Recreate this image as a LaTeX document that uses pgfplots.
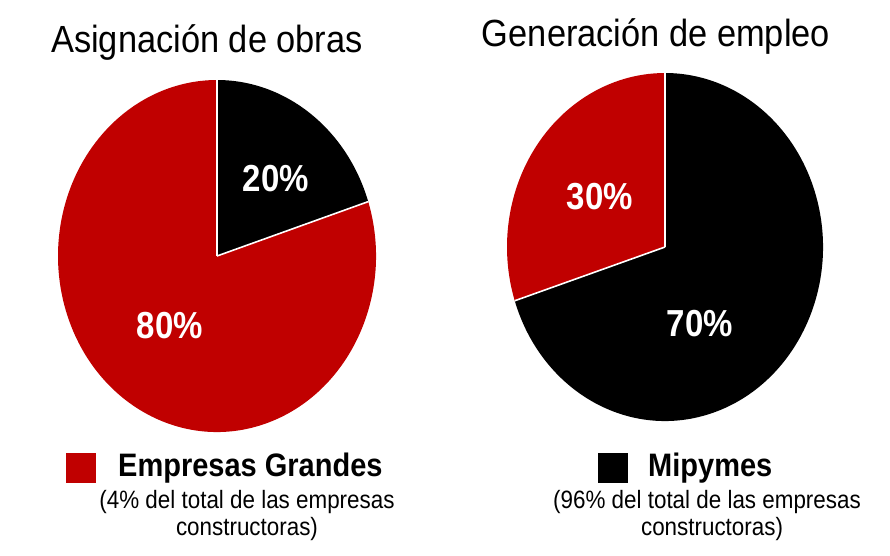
\documentclass[border=0pt]{standalone}
\usepackage{pgfplots}
\pgfplotsset{compat=1.18}
\usepackage{pgfplotstable}
\usepackage{fontspec}
\usepackage{graphicx}
\setmainfont{Liberation Sans}
\definecolor{pred}{HTML}{C00000}

\pgfplotstableread{
pie grandes mipymes
obras 80 20
empleo 30 70
}\datatable

\begin{document}
\pgfplotstablegetelem{0}{mipymes}\of\datatable \let\obrasMip\pgfplotsretval
\pgfplotstablegetelem{1}{grandes}\of\datatable \let\empleoGra\pgfplotsretval
\begin{tikzpicture}
\begin{axis}[
  width=890pt, height=555pt, scale only axis,
  xmin=0, xmax=890, ymin=0, ymax=555, y dir=reverse,
  hide axis, clip=false]
\path (0,0) rectangle (890,555);
% ---- left pie: Asignacion de obras ----
\pgfmathsetmacro{\aEnd}{90-3.6*\obrasMip}
\fill[black] (217,256) -- ++(90:159pt and 176pt) arc[start angle=90, end angle=\aEnd, x radius=159pt, y radius=176pt] -- cycle;
\fill[pred] (217,256) -- ++(\aEnd:159pt and 176pt) arc[start angle=\aEnd, end angle=-270, x radius=159pt, y radius=176pt] -- cycle;
\draw[white, line width=1.6pt] (217,256) -- ++(90:159pt and 176pt);
\draw[white, line width=1.6pt] (217,256) -- ++(\aEnd:159pt and 176pt);
% ---- right pie: Generacion de empleo ----
\pgfmathsetmacro{\bEnd}{90+3.6*\empleoGra}
\fill[pred] (665,247) -- ++(90:158pt and 174pt) arc[start angle=90, end angle=\bEnd, x radius=158pt, y radius=174pt] -- cycle;
\fill[black] (665,247) -- ++(\bEnd:158pt and 174pt) arc[start angle=\bEnd, end angle=450, x radius=158pt, y radius=174pt] -- cycle;
\draw[white, line width=1.6pt] (665,247) -- ++(90:158pt and 174pt);
\draw[white, line width=1.6pt] (665,247) -- ++(\bEnd:158pt and 174pt);
% ---- percentage labels ----
\node[text=white, font=\fontsize{33}{33}\selectfont\bfseries] at (276,179) {\scalebox{1}[1.14]{20\%}};
\node[text=white, font=\fontsize{33}{33}\selectfont\bfseries] at (170,326) {\scalebox{1}[1.14]{80\%}};
\node[text=white, font=\fontsize{33}{33}\selectfont\bfseries] at (600,197) {\scalebox{1}[1.14]{30\%}};
\node[text=white, font=\fontsize{33}{33}\selectfont\bfseries] at (700,324) {\scalebox{1}[1.14]{70\%}};
% ---- titles ----
\node[font=\fontsize{34.4}{34.4}\selectfont, anchor=base, inner sep=0pt] at (207,52.7) {\scalebox{1}[1.1]{Asignación de obras}};
\node[font=\fontsize{34.4}{34.4}\selectfont, anchor=base, inner sep=0pt] at (656,46.7) {\scalebox{1}[1.1]{Generación de empleo}};
% ---- legend ----
\addplot[only marks, mark=square*, mark size=14.5pt, color=pred] coordinates {(81,468)};
\addplot[only marks, mark=square*, mark size=14.5pt, color=black] coordinates {(613,468)};
\node[font=\fontsize{29}{29}\selectfont\bfseries, anchor=west, inner sep=0pt] at (118,468) {\scalebox{1}[1.12]{Empresas Grandes}};
\node[font=\fontsize{29}{29}\selectfont\bfseries, anchor=west, inner sep=0pt] at (648,468) {\scalebox{1}[1.12]{Mipymes}};
\node[font=\fontsize{22.4}{22.4}\selectfont] at (247,502) {\scalebox{1}[1.12]{(4\% del total de las empresas}};
\node[font=\fontsize{22.4}{22.4}\selectfont] at (247,529) {\scalebox{1}[1.12]{constructoras)}};
\node[font=\fontsize{22.4}{22.4}\selectfont] at (707,502) {\scalebox{1}[1.12]{(96\% del total de las empresas}};
\node[font=\fontsize{22.4}{22.4}\selectfont] at (712,529) {\scalebox{1}[1.12]{constructoras)}};
\end{axis}
\end{tikzpicture}
\end{document}
